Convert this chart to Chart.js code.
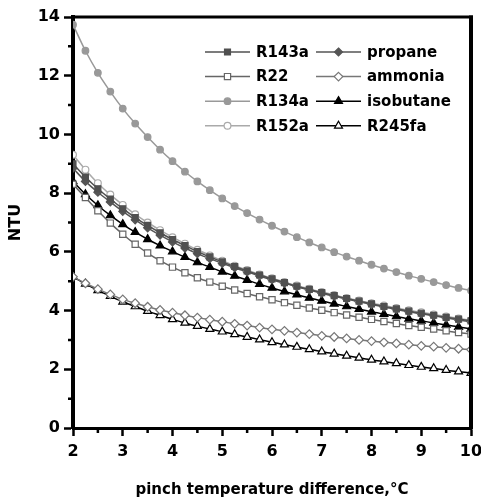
<!DOCTYPE html>
<html>
<head>
<meta charset="utf-8">
<script src="https://cdn.jsdelivr.net/npm/chart.js@4.4.1/dist/chart.umd.min.js"></script>
<style>
  body { margin: 0; background: #fff; }
  #ntuChart { display: block; }
</style>
</head>
<body>
<canvas id="ntuChart" width="481" height="499"></canvas>
<script>
// pinch temperature difference, °C
const pinch = [2, 2.25, 2.5, 2.75, 3, 3.25, 3.5, 3.75, 4, 4.25, 4.5, 4.75, 5, 5.25, 5.5, 5.75,
  6, 6.25, 6.5, 6.75, 7, 7.25, 7.5, 7.75, 8, 8.25, 8.5, 8.75, 9, 9.25, 9.5, 9.75, 10];

// NTU per working fluid
const r143a = [9.00, 8.55, 8.15, 7.80, 7.47, 7.17, 6.90, 6.65, 6.42, 6.21, 6.01, 5.83, 5.66, 5.50, 5.35, 5.21,
  5.08, 4.95, 4.83, 4.72, 4.61, 4.51, 4.41, 4.32, 4.23, 4.14, 4.06, 3.98, 3.91, 3.84, 3.77, 3.71, 3.65];
const r22 = [8.30, 7.85, 7.40, 6.98, 6.60, 6.26, 5.96, 5.70, 5.48, 5.29, 5.12, 4.97, 4.83, 4.70, 4.58, 4.47,
  4.37, 4.27, 4.18, 4.09, 4.01, 3.93, 3.85, 3.77, 3.70, 3.63, 3.56, 3.49, 3.43, 3.37, 3.31, 3.25, 3.20];
const r134a = [13.74, 12.85, 12.10, 11.46, 10.88, 10.37, 9.91, 9.48, 9.09, 8.73, 8.40, 8.10, 7.82, 7.56, 7.32, 7.10,
  6.89, 6.69, 6.50, 6.32, 6.15, 5.99, 5.84, 5.70, 5.56, 5.43, 5.31, 5.19, 5.08, 4.97, 4.87, 4.77, 4.68];
const r152a = [9.31, 8.80, 8.34, 7.95, 7.60, 7.28, 7.00, 6.74, 6.50, 6.28, 6.07, 5.88, 5.70, 5.53, 5.38, 5.23,
  5.10, 4.97, 4.85, 4.74, 4.63, 4.53, 4.43, 4.34, 4.25, 4.17, 4.09, 4.01, 3.94, 3.87, 3.80, 3.73, 3.67];
const propane = [8.85, 8.40, 8.03, 7.70, 7.38, 7.09, 6.82, 6.57, 6.34, 6.13, 5.94, 5.77, 5.61, 5.46, 5.32, 5.18,
  5.05, 4.93, 4.81, 4.70, 4.59, 4.49, 4.39, 4.30, 4.21, 4.12, 4.04, 3.96, 3.89, 3.82, 3.75, 3.68, 3.62];
const ammonia = [5.15, 4.93, 4.73, 4.55, 4.38, 4.25, 4.13, 4.02, 3.93, 3.84, 3.76, 3.69, 3.62, 3.55, 3.49, 3.42,
  3.36, 3.31, 3.25, 3.20, 3.14, 3.10, 3.05, 3.00, 2.96, 2.92, 2.88, 2.84, 2.80, 2.77, 2.73, 2.70, 2.67];
const isobutane = [8.40, 7.96, 7.58, 7.24, 6.94, 6.67, 6.43, 6.21, 6.01, 5.82, 5.64, 5.48, 5.32, 5.18, 5.04, 4.90,
  4.77, 4.65, 4.54, 4.43, 4.33, 4.23, 4.14, 4.05, 3.96, 3.88, 3.80, 3.72, 3.65, 3.58, 3.51, 3.44, 3.38];
const r245fa = [5.15, 4.91, 4.69, 4.49, 4.30, 4.14, 3.98, 3.84, 3.70, 3.58, 3.47, 3.37, 3.28, 3.19, 3.10, 3.01,
  2.92, 2.84, 2.76, 2.68, 2.60, 2.53, 2.46, 2.39, 2.32, 2.26, 2.20, 2.14, 2.08, 2.03, 1.97, 1.92, 1.87];

const fluids = ['R143a', 'R22', 'R134a', 'R152a', 'propane', 'ammonia', 'isobutane', 'R245fa'];
const series = [r143a, r22, r134a, r152a, propane, ammonia, isobutane, r245fa];

const FONT = "'DejaVu Sans', sans-serif";

// line colour, marker shape, marker fill, marker radius
const styles = [
  { color: '#505050', shape: 'rect',     fill: '#505050', r: 4.2 },
  { color: '#666666', shape: 'rect',     fill: '#ffffff', r: 4.4 },
  { color: '#999999', shape: 'circle',   fill: '#999999', r: 3.3 },
  { color: '#aaaaaa', shape: 'circle',   fill: '#ffffff', r: 3.4 },
  { color: '#555555', shape: 'rectRot',  fill: '#555555', r: 4 },
  { color: '#777777', shape: 'rectRot',  fill: '#ffffff', r: 4.3 },
  { color: '#000000', shape: 'triangle', fill: '#000000', r: 4.6 },
  { color: '#000000', shape: 'triangle', fill: '#ffffff', r: 4.6 }
];

const datasets = fluids.map((name, i) => ({
  label: name,
  data: pinch.map((x, j) => ({ x: x, y: series[i][j] })),
  borderColor: styles[i].color,
  borderWidth: 1.5,
  pointStyle: styles[i].shape,
  pointRadius: styles[i].r,
  pointBackgroundColor: styles[i].fill,
  pointBorderColor: styles[i].color,
  pointBorderWidth: 1.2,
  fill: false,
  tension: 0.3
}));

// draw one legend marker the same way the points look
function drawMarker(ctx, st, x, y) {
  const r = st.r;
  ctx.beginPath();
  if (st.shape === 'rect') {
    const s = Math.SQRT1_2 * r;
    ctx.rect(x - s, y - s, 2 * s, 2 * s);
  } else if (st.shape === 'rectRot') {
    ctx.moveTo(x, y - r);
    ctx.lineTo(x + r, y);
    ctx.lineTo(x, y + r);
    ctx.lineTo(x - r, y);
    ctx.closePath();
  } else if (st.shape === 'triangle') {
    const w = r * Math.sqrt(3) / 2;
    ctx.moveTo(x, y - r);
    ctx.lineTo(x + w, y + r / 2);
    ctx.lineTo(x - w, y + r / 2);
    ctx.closePath();
  } else {
    ctx.arc(x, y, r, 0, Math.PI * 2);
  }
  ctx.fillStyle = st.fill;
  ctx.fill();
  ctx.lineWidth = 1.2;
  ctx.strokeStyle = st.color;
  ctx.stroke();
}

const framePlugin = {
  id: 'frame',
  afterDraw(chart) {
    const ctx = chart.ctx;
    const a = chart.chartArea;
    const xs = chart.scales.x;
    const ys = chart.scales.y;
    ctx.save();
    ctx.strokeStyle = '#000';
    // top and right border
    ctx.lineWidth = 3;
    ctx.beginPath();
    ctx.moveTo(a.left, a.top);
    ctx.lineTo(a.right + 2, a.top);
    ctx.stroke();
    ctx.lineWidth = 4;
    ctx.beginPath();
    ctx.moveTo(a.right, a.top - 1.5);
    ctx.lineTo(a.right, a.bottom + 1.5);
    ctx.stroke();
    // minor ticks
    ctx.lineWidth = 2.5;
    ctx.beginPath();
    for (let v = 2.5; v < 10; v += 1) {
      const px = xs.getPixelForValue(v);
      ctx.moveTo(px, a.bottom);
      ctx.lineTo(px, a.bottom + 5);
    }
    for (let v = 1; v < 14; v += 2) {
      const py = ys.getPixelForValue(v);
      ctx.moveTo(a.left, py);
      ctx.lineTo(a.left - 5, py);
    }
    ctx.stroke();

    // legend, two columns of four
    ctx.font = 'bold 15px ' + FONT;
    ctx.textBaseline = 'middle';
    ctx.textAlign = 'left';
    fluids.forEach((name, i) => {
      const col = i < 4 ? 0 : 1;
      const row = i % 4;
      const st = styles[i];
      const x0 = a.left + 132 + col * 111;
      const y0 = a.top + 35 + row * 24.6;
      ctx.strokeStyle = st.color;
      ctx.lineWidth = 1.5;
      ctx.beginPath();
      ctx.moveTo(x0, y0);
      ctx.lineTo(x0 + 45, y0);
      ctx.stroke();
      drawMarker(ctx, st, x0 + 22.5, y0);
      ctx.fillStyle = '#000';
      ctx.fillText(name, x0 + 51, y0 + 1);
    });
    ctx.restore();
  }
};

new Chart(document.getElementById('ntuChart'), {
  type: 'line',
  data: { datasets },
  options: {
    responsive: false,
    animation: false,
    devicePixelRatio: 1,
    layout: { padding: { top: 17, right: 0, left: 0, bottom: 0 } },
    plugins: {
      legend: { display: false },
      tooltip: { enabled: false }
    },
    scales: {
      x: {
        type: 'linear',
        min: 2,
        max: 10,
        afterFit: s => { s.height = 71; s.paddingRight = 10; },
        ticks: { stepSize: 1, color: '#000', padding: 6, font: { family: FONT, size: 16, weight: 'bold' } },
        grid: { drawOnChartArea: false, tickLength: 8, tickWidth: 2.5, tickColor: '#000' },
        border: { color: '#000', width: 3 },
        title: {
          display: true,
          text: 'pinch temperature difference,°C',
          color: '#000',
          padding: { top: 0, bottom: 0 },
          font: { family: FONT, size: 15, weight: 'bold' }
        }
      },
      y: {
        min: 0,
        max: 14,
        afterFit: s => { s.width = 73; },
        ticks: { stepSize: 2, color: '#000', padding: 4, font: { family: FONT, size: 16, weight: 'bold' } },
        grid: { drawOnChartArea: false, tickLength: 9, tickWidth: 2.5, tickColor: '#000' },
        border: { color: '#000', width: 4 },
        title: {
          display: true,
          text: 'NTU',
          color: '#000',
          padding: { top: 6, bottom: 0 },
          font: { family: FONT, size: 16, weight: 'bold' }
        }
      }
    }
  },
  plugins: [framePlugin]
});
</script>
</body>
</html>
